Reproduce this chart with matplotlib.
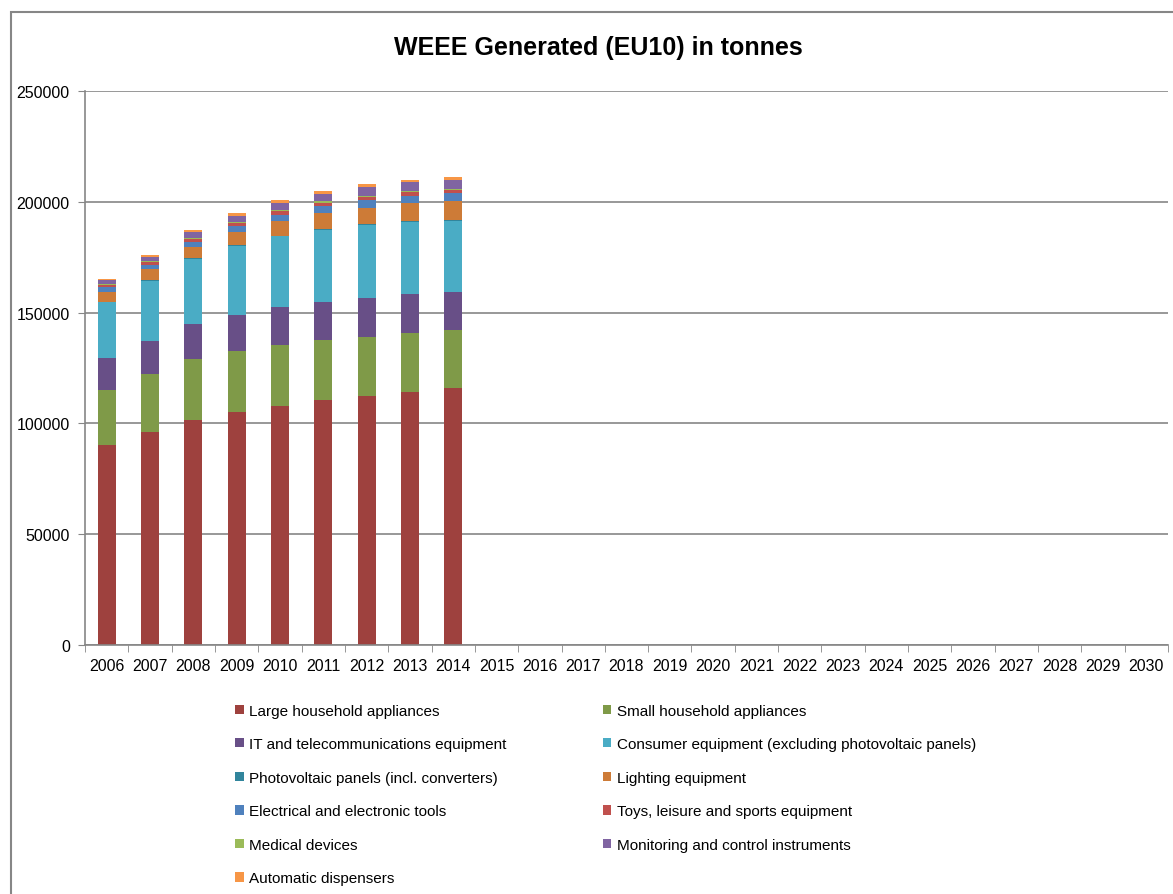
import matplotlib.pyplot as plt
from matplotlib.patches import Rectangle, Patch
import numpy as np

plt.rcParams['font.family'] = ['Liberation Sans Narrow', 'Liberation Sans', 'DejaVu Sans']

years = [str(y) for y in range(2006, 2031)]

# tonnes per category, 2006..2014 (later years have no data)
large = [90300, 96000, 101500, 105100, 107700, 110600, 112500, 114200, 115800]
small = [24900, 26200, 27600, 27600, 27800, 26900, 26700, 26500, 26500]
it_tel = [14500, 15100, 15600, 16400, 16900, 17300, 17200, 17800, 16900]
consumer = [24900, 27100, 29500, 31000, 32000, 32600, 33100, 32400, 32300]
pv = [200, 200, 250, 300, 350, 400, 450, 500, 500]
lighting = [4600, 5100, 5250, 6100, 6750, 7300, 7350, 8200, 8300]
tools = [2300, 1800, 2000, 2400, 2700, 2900, 3300, 3000, 3700]
toys = [800, 1500, 1500, 1700, 1800, 1600, 1600, 1600, 1200]
medical = [300, 300, 400, 500, 500, 600, 600, 700, 600]
monitoring = [1900, 1900, 2600, 2500, 3000, 3300, 4100, 3900, 4000]
dispensers = [500, 800, 900, 1200, 1100, 1200, 1000, 1000, 1400]

series = [
    ('Large household appliances', large, '#9E413E'),
    ('Small household appliances', small, '#7F9A48'),
    ('IT and telecommunications equipment', it_tel, '#684F87'),
    ('Consumer equipment (excluding photovoltaic panels)', consumer, '#4AACC5'),
    ('Photovoltaic panels (incl. converters)', pv, '#31859C'),
    ('Lighting equipment', lighting, '#CD7B37'),
    ('Electrical and electronic tools', tools, '#4F81BD'),
    ('Toys, leisure and sports equipment', toys, '#C0504D'),
    ('Medical devices', medical, '#9BBB59'),
    ('Monitoring and control instruments', monitoring, '#8064A2'),
    ('Automatic dispensers', dispensers, '#F79646'),
]

fig = plt.figure(figsize=(11.73, 8.95), dpi=100)
ax = fig.add_axes([0.0725, 0.2782, 0.9232, 0.619])

x = np.arange(len(large))
bottom = np.zeros(len(large))
handles = []
for name, vals, col in series:
    ax.bar(x, vals, width=0.42, bottom=bottom, color=col, linewidth=0)
    bottom += np.array(vals)
    handles.append(Patch(facecolor=col, label=name))

ax.set_xlim(-0.5, len(years) - 0.5)
ax.set_ylim(0, 250000)
ax.set_yticks(range(0, 250001, 50000))
ax.set_xticks(range(len(years)))
ax.set_xticklabels(years)
ax.set_xticks(np.arange(-0.5, len(years), 1), minor=True)
ax.tick_params(axis='x', which='major', length=0, labelsize=11.5, pad=9)
ax.tick_params(axis='x', which='minor', length=5, color='#868686')
ax.tick_params(axis='y', length=5, color='#868686', labelsize=11.5, pad=6)
ax.yaxis.grid(True, color='#868686', linewidth=1.2)
ax.set_axisbelow(True)
for s in ['top', 'right']:
    ax.spines[s].set_visible(False)
for s in ['left', 'bottom']:
    ax.spines[s].set_color('#868686')
    ax.spines[s].set_linewidth(1.2)

fig.text(0.51, 0.946, 'WEEE Generated (EU10) in tonnes', ha='center', va='center',
         fontsize=18, fontweight='bold', fontstretch='condensed')

# legend is row-major in the original, matplotlib fills columns first
order = [0, 2, 4, 6, 8, 10, 1, 3, 5, 7, 9]
fig.legend([handles[i] for i in order], [series[i][0] for i in order], ncol=2,
           loc='upper left', bbox_to_anchor=(0.189, 0.228), frameon=False,
           prop={'size': 11, 'stretch': 'condensed'},
           handlelength=0.55, handleheight=0.55, handletextpad=0.35,
           labelspacing=1.28, columnspacing=6.3)

fig.add_artist(Rectangle((0.009, -0.01), 1.2, 0.996, transform=fig.transFigure,
                         fill=False, edgecolor='#868686', linewidth=1.5))

fig.savefig('out.png', dpi=100)
